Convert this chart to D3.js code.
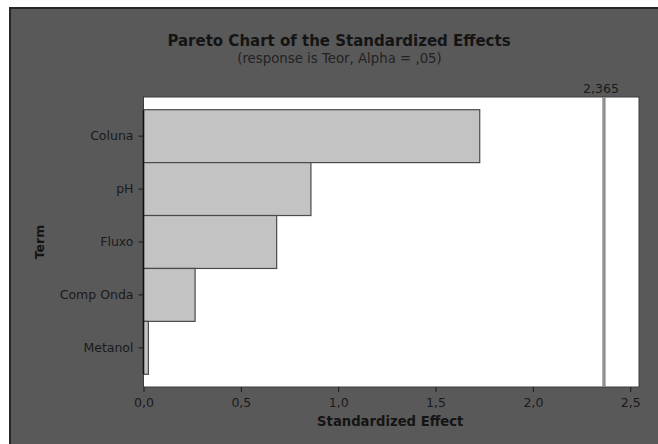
<!DOCTYPE html>
<html>
<head>
<meta charset="utf-8">
<script src="https://cdn.jsdelivr.net/npm/d3@7"></script>
<style>
  html, body { margin: 0; padding: 0; background: #ffffff; }
  svg { display: block; font-family: "DejaVu Sans", sans-serif; }
</style>
</head>
<body>
<svg id="chart" width="658" height="444"></svg>
<script>
// Standardized effects for each term (absolute t-values)
const terms = ["Coluna", "pH", "Fluxo", "Comp Onda", "Metanol"];
const effects = [1.727, 0.86, 0.684, 0.265, 0.025];
// Critical t-value for Alpha = 0,05
const criticalValue = 2.365;
const criticalLabel = "2,365";
const xTicks = [0, 0.5, 1.0, 1.5, 2.0, 2.5];

const titleText = "Pareto Chart of the Standardized Effects";
const subtitleText = "(response is Teor, Alpha = ,05)";
const xTitle = "Standardized Effect";
const yTitle = "Term";

const W = 658, H = 444;
const plot = { left: 143.5, right: 639, top: 97, bottom: 387 };
const svg = d3.select("#chart");

// outer frame: dark panel with a thin dark edge on top/left
svg.append("rect").attr("x", 0).attr("y", 0).attr("width", W).attr("height", H).attr("fill", "#ffffff");
svg.append("rect").attr("x", 9).attr("y", 7).attr("width", W - 9).attr("height", H - 7).attr("fill", "#262626");
svg.append("rect").attr("x", 11).attr("y", 9).attr("width", W - 11).attr("height", H - 9).attr("fill", "#595959");

const x = d3.scaleLinear().domain([0, 2.545]).range([plot.left, plot.right]);
const y = d3.scaleBand().domain(terms).range([plot.top, plot.bottom]).paddingInner(0).paddingOuter(0.24);

// plot area
svg.append("rect")
  .attr("x", plot.left).attr("y", plot.top)
  .attr("width", plot.right - plot.left).attr("height", plot.bottom - plot.top)
  .attr("fill", "#ffffff").attr("stroke", "#3c3c3c").attr("stroke-width", 1);

// bars
svg.append("g").selectAll("rect")
  .data(terms.map((t, i) => ({ term: t, value: effects[i] })))
  .join("rect")
  .attr("x", x(0))
  .attr("y", d => y(d.term))
  .attr("width", d => x(d.value) - x(0))
  .attr("height", y.bandwidth())
  .attr("fill", "#c3c3c3")
  .attr("stroke", "#4a4a4a")
  .attr("stroke-width", 1.2);

// reference line at the critical value (grey line with darker edges)
const refX = x(criticalValue);
svg.append("line")
  .attr("x1", refX).attr("x2", refX)
  .attr("y1", plot.top).attr("y2", plot.bottom)
  .attr("stroke", "#6e6e6e").attr("stroke-width", 3);
svg.append("line")
  .attr("x1", refX).attr("x2", refX)
  .attr("y1", plot.top).attr("y2", plot.bottom)
  .attr("stroke", "#b4b4b4").attr("stroke-width", 1);
svg.append("text")
  .attr("x", refX - 3).attr("y", 93)
  .attr("text-anchor", "middle")
  .attr("font-size", 12.5).attr("fill", "#1a1a1a")
  .text(criticalLabel);

const fmt = d => d3.format(".1f")(d).replace(".", ",");

// x axis
const xAxis = svg.append("g")
  .attr("transform", `translate(0,${plot.bottom})`)
  .call(d3.axisBottom(x).tickValues(xTicks).tickFormat(fmt).tickSize(5).tickPadding(6));
xAxis.select(".domain").remove();
xAxis.selectAll(".tick line").attr("stroke", "#1a1a1a");
xAxis.selectAll(".tick text").attr("font-size", 12.5).attr("fill", "#1a1a1a")
  .attr("font-family", "DejaVu Sans, sans-serif");

// y axis
const yAxis = svg.append("g")
  .attr("transform", `translate(${plot.left},0)`)
  .call(d3.axisLeft(y).tickSize(5).tickSizeOuter(0).tickPadding(5));
yAxis.select(".domain")
  .attr("d", `M0,${y.range()[0] + y.step() * y.paddingOuter()}V${y.range()[1] - y.step() * y.paddingOuter()}`)
  .attr("stroke", "#111111").attr("stroke-width", 1.5);
yAxis.selectAll(".tick line").attr("stroke", "#1a1a1a");
yAxis.selectAll(".tick text").attr("font-size", 12.5).attr("fill", "#1a1a1a")
  .attr("font-family", "DejaVu Sans, sans-serif");

// titles
svg.append("text")
  .attr("x", 339).attr("y", 46).attr("text-anchor", "middle")
  .attr("font-size", 15).attr("font-weight", "bold").attr("fill", "#141414")
  .text(titleText);
svg.append("text")
  .attr("x", 339.5).attr("y", 63).attr("text-anchor", "middle")
  .attr("font-size", 13.3).attr("fill", "#222222")
  .text(subtitleText);
svg.append("text")
  .attr("x", (plot.left + plot.right) / 2 - 1).attr("y", 426).attr("text-anchor", "middle")
  .attr("font-size", 13.2).attr("font-weight", "bold").attr("fill", "#141414")
  .text(xTitle);
svg.append("text")
  .attr("transform", `translate(44,242) rotate(-90)`)
  .attr("text-anchor", "middle")
  .attr("font-size", 12.5).attr("font-weight", "bold").attr("fill", "#141414")
  .text(yTitle);
</script>
</body>
</html>
